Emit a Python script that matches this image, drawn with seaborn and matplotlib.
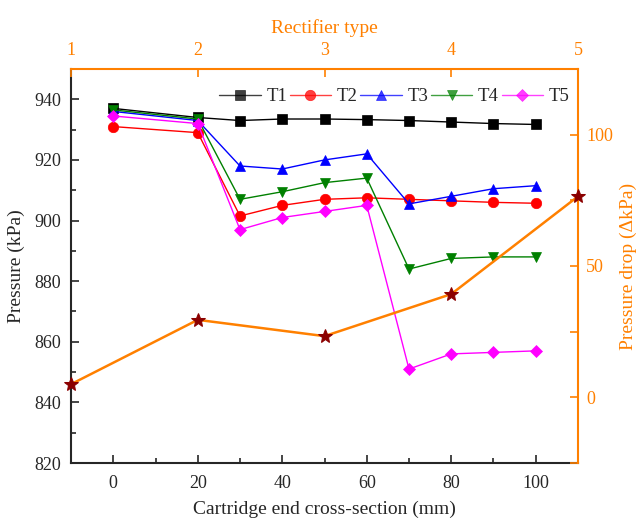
import numpy as np
import pandas as pd
import matplotlib
matplotlib.use('Agg')
import matplotlib.pyplot as plt
import seaborn as sns
from matplotlib.ticker import MultipleLocator

# data
section = [0, 20, 30, 40, 50, 60, 70, 80, 90, 100]
t1 = [937, 934, 933, 933.5, 933.5, 933.3, 933, 932.5, 932, 931.7]
t2 = [931, 929, 901.5, 905, 907, 907.5, 907, 906.5, 906, 905.7]
t3 = [936, 933, 918, 917, 920, 922, 905.5, 908, 910.5, 911.5]
t4 = [936.5, 933.5, 907, 909.5, 912.5, 914, 884, 887.5, 888, 888]
t5 = [934.5, 932, 897, 901, 903, 905, 851, 856, 856.5, 857]

rect_type = [1, 2, 3, 4, 5]
pdrop = [5, 29.5, 23.3, 39.3, 76.5]

sns.set_style('ticks')
plt.rcParams['font.family'] = ['Liberation Serif', 'DejaVu Serif']

orange = '#ff8000'

df = pd.DataFrame({'section': section * 5,
                   'pressure': t1 + t2 + t3 + t4 + t5,
                   'series': sum([[s] * len(section) for s in ['T1', 'T2', 'T3', 'T4', 'T5']], [])})
pal = {'T1': 'black', 'T2': 'red', 'T3': 'blue', 'T4': 'green', 'T5': 'magenta'}
mk = {'T1': 's', 'T2': 'o', 'T3': '^', 'T4': 'v', 'T5': 'D'}

fig = plt.figure(figsize=(6.38, 5.21), dpi=100)
pos = [71 / 638, 1 - 463 / 521, (578 - 71) / 638, (463 - 69) / 521]
ax = fig.add_axes(pos)

for s in ['T1', 'T2', 'T3', 'T4', 'T5']:
    d = df[df.series == s]
    ms = 6.5 if s == 'T5' else 7.5
    sns.lineplot(data=d, x='section', y='pressure', ax=ax, color=pal[s],
                 marker=mk[s], markersize=ms, markeredgewidth=0.5,
                 markeredgecolor=pal[s], linewidth=1, label=s)

ax.set_xlim(-10, 110)
ax.set_ylim(820, 950)
ax.set_xticks([0, 20, 40, 60, 80, 100])
ax.xaxis.set_minor_locator(MultipleLocator(10))
ax.set_yticks([820, 840, 860, 880, 900, 920, 940])
ax.yaxis.set_minor_locator(MultipleLocator(10))
ax.tick_params(direction='in', which='both', labelsize=13, width=1.2)
ax.tick_params(which='major', length=6)
ax.tick_params(which='minor', length=3.5)
ax.tick_params(axis='x', pad=9)
ax.tick_params(axis='y', pad=7)
ax.set_xlabel('Cartridge end cross-section (mm)', fontsize=14, labelpad=6)
ax.set_ylabel('Pressure (kPa)', fontsize=14, labelpad=7)
for sp in ['left', 'bottom']:
    ax.spines[sp].set_linewidth(1.5)
ax.spines['top'].set_visible(False)
ax.spines['right'].set_visible(False)

leg = ax.legend(loc='upper right', bbox_to_anchor=(1.005, 0.98), ncol=5, frameon=False,
                fontsize=13.5, handlelength=2.2, handletextpad=0.3, columnspacing=0.15,
                borderaxespad=0.2)
for h in leg.get_lines():
    h.set_alpha(0.75)

# second set of axes for the rectifier type series
ax2 = fig.add_axes(pos, frameon=True)
ax2.patch.set_visible(False)
sns.lineplot(x=rect_type, y=pdrop, ax=ax2, color=orange, linewidth=1.8,
             marker='*', markersize=10, markerfacecolor='#8b0000',
             markeredgecolor='#8b0000', clip_on=False, zorder=5)
ax2.set_xlim(1, 5)
ax2.set_ylim(-25, 125)
ax2.xaxis.tick_top()
ax2.xaxis.set_label_position('top')
ax2.yaxis.tick_right()
ax2.yaxis.set_label_position('right')
ax2.set_xticks([1, 2, 3, 4, 5])
ax2.set_yticks([0, 50, 100])
ax2.yaxis.set_minor_locator(MultipleLocator(25))
ax2.tick_params(direction='in', which='both', colors=orange, labelsize=13, width=1.2)
ax2.tick_params(which='major', length=6)
ax2.tick_params(which='minor', length=6)
ax2.tick_params(axis='x', pad=7)
ax2.tick_params(axis='y', pad=6)
ax2.set_xlabel('Rectifier type', fontsize=14, color=orange, labelpad=7)
ax2.set_ylabel('Pressure drop (ΔkPa)', fontsize=14, color=orange, labelpad=5)
ax2.spines['left'].set_visible(False)
ax2.spines['bottom'].set_visible(False)
for sp in ['top', 'right']:
    ax2.spines[sp].set_color(orange)
    ax2.spines[sp].set_linewidth(1.5)

fig.savefig('out.png', dpi=100)
